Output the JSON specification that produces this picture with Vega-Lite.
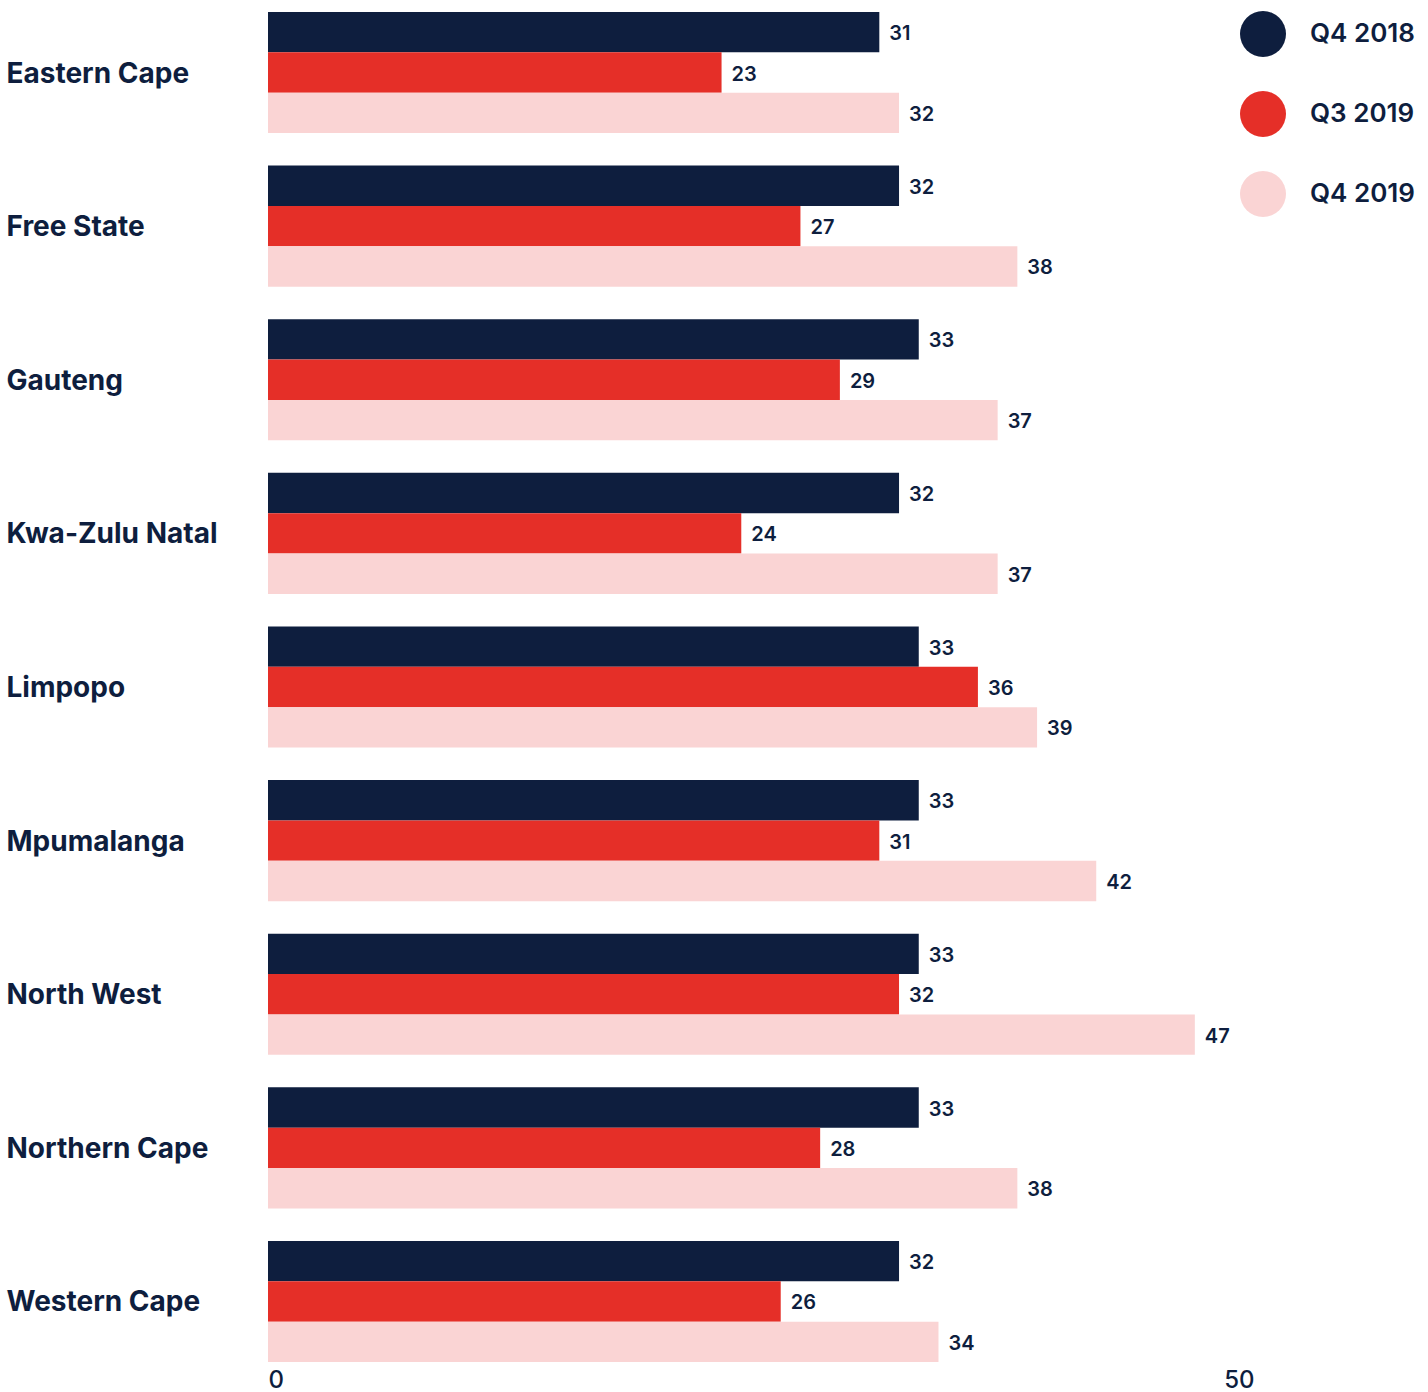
{
  "$schema": "https://vega.github.io/schema/vega-lite/v6.json",
  "autosize": "none",
  "width": 986,
  "height": 1350,
  "padding": {"left": 268, "top": 12, "right": 174, "bottom": 30},
  "background": "white",
  "config": {
    "view": {"stroke": null},
    "font": "Inter",
    "axis": {"labelColor": "#0e1e3e", "grid": false, "domain": false, "ticks": false}
  },
  "data": {
    "values": [
      {"province": "Eastern Cape", "period": "Q4 2018", "value": 31},
      {"province": "Eastern Cape", "period": "Q3 2019", "value": 23},
      {"province": "Eastern Cape", "period": "Q4 2019", "value": 32},
      {"province": "Free State", "period": "Q4 2018", "value": 32},
      {"province": "Free State", "period": "Q3 2019", "value": 27},
      {"province": "Free State", "period": "Q4 2019", "value": 38},
      {"province": "Gauteng", "period": "Q4 2018", "value": 33},
      {"province": "Gauteng", "period": "Q3 2019", "value": 29},
      {"province": "Gauteng", "period": "Q4 2019", "value": 37},
      {"province": "Kwa-Zulu Natal", "period": "Q4 2018", "value": 32},
      {"province": "Kwa-Zulu Natal", "period": "Q3 2019", "value": 24},
      {"province": "Kwa-Zulu Natal", "period": "Q4 2019", "value": 37},
      {"province": "Limpopo", "period": "Q4 2018", "value": 33},
      {"province": "Limpopo", "period": "Q3 2019", "value": 36},
      {"province": "Limpopo", "period": "Q4 2019", "value": 39},
      {"province": "Mpumalanga", "period": "Q4 2018", "value": 33},
      {"province": "Mpumalanga", "period": "Q3 2019", "value": 31},
      {"province": "Mpumalanga", "period": "Q4 2019", "value": 42},
      {"province": "North West", "period": "Q4 2018", "value": 33},
      {"province": "North West", "period": "Q3 2019", "value": 32},
      {"province": "North West", "period": "Q4 2019", "value": 47},
      {"province": "Northern Cape", "period": "Q4 2018", "value": 33},
      {"province": "Northern Cape", "period": "Q3 2019", "value": 28},
      {"province": "Northern Cape", "period": "Q4 2019", "value": 38},
      {"province": "Western Cape", "period": "Q4 2018", "value": 32},
      {"province": "Western Cape", "period": "Q3 2019", "value": 26},
      {"province": "Western Cape", "period": "Q4 2019", "value": 34}
    ]
  },
  "encoding": {
    "y": {
      "field": "province",
      "type": "nominal",
      "sort": null,
      "scale": {"paddingInner": 0.212, "paddingOuter": 0},
      "axis": {
        "title": null,
        "labelAlign": "left",
        "labelPadding": 262,
        "tickSize": 0,
        "labelFontSize": 28,
        "labelFontWeight": 700,
        "labelColor": "#0e1e3e",
        "labelLimit": 300,
        "labelOffset": 2
      }
    },
    "yOffset": {
      "field": "period",
      "type": "nominal",
      "sort": ["Q4 2018", "Q3 2019", "Q4 2019"],
      "scale": {"paddingInner": 0, "paddingOuter": 0}
    },
    "x": {
      "field": "value",
      "type": "quantitative",
      "scale": {"domain": [0, 50], "nice": false},
      "axis": {
        "title": null,
        "values": [0, 50],
        "labelFlush": true,
        "labelFontSize": 24,
        "labelFontWeight": 500,
        "labelPadding": 6,
        "tickSize": 0
      }
    }
  },
  "layer": [
    {
      "mark": {"type": "bar", "cornerRadius": 0},
      "encoding": {
        "color": {
          "field": "period",
          "type": "nominal",
          "scale": {
            "domain": ["Q4 2018", "Q3 2019", "Q4 2019"],
            "range": ["#0e1e3e", "#e52f28", "#fad4d4"]
          },
          "legend": {
            "title": null,
            "orient": "none",
            "legendX": 972,
            "legendY": -1,
            "symbolType": "circle",
            "symbolSize": 2116,
            "symbolStrokeWidth": 0,
            "symbolOpacity": 1,
            "labelFontSize": 26,
            "labelFontWeight": 600,
            "labelColor": "#0e1e3e",
            "labelOffset": 24,
            "rowPadding": 34,
            "padding": 0
          }
        }
      }
    },
    {
      "mark": {
        "type": "text",
        "align": "left",
        "baseline": "middle",
        "dx": 10,
        "dy": 2,
        "fontSize": 20,
        "fontWeight": 600,
        "color": "#0e1e3e"
      },
      "encoding": {
        "text": {"field": "value", "type": "quantitative"}
      }
    }
  ]
}
